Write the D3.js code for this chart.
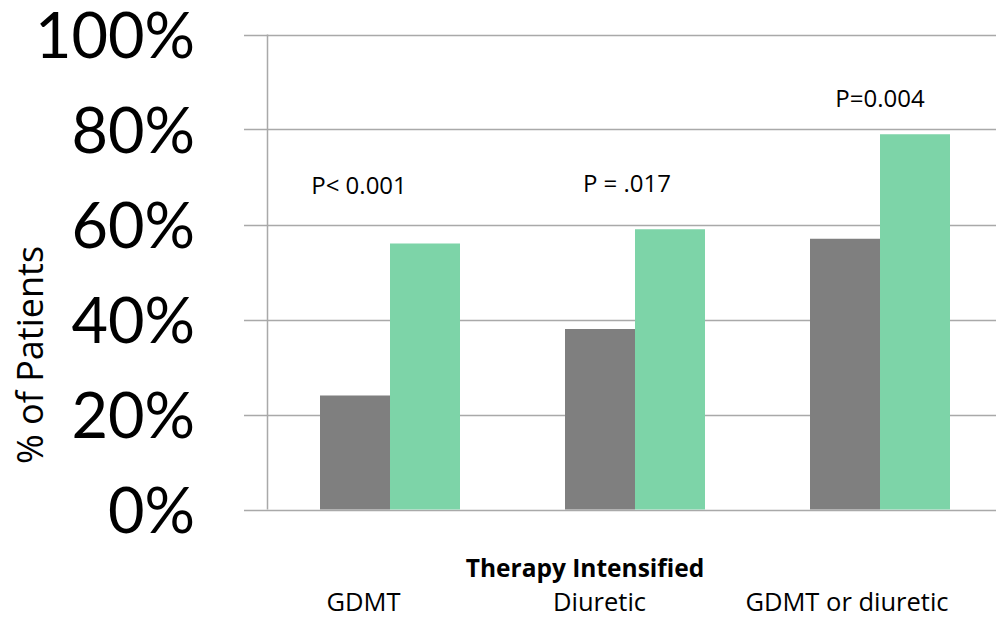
<!DOCTYPE html>
<html>
<head>
<meta charset="utf-8">
<script src="https://cdn.jsdelivr.net/npm/d3@7/dist/d3.min.js"></script>
<style>
  html, body { margin: 0; padding: 0; background: #fff; }
  svg { display: block; font-family: "Open Sans", Lato, sans-serif; }
</style>
</head>
<body>
<svg id="chart" width="996" height="617"></svg>
<script>
const categories = ["GDMT", "Diuretic", "GDMT or diuretic"];
const seriesNames = ["Control", "Intervention"];
const controlValues = [0.24, 0.38, 0.57];
const interventionValues = [0.56, 0.59, 0.79];
const pLabels = ["P< 0.001", "P = .017", "P=0.004"];
const yTicks = [0, 0.2, 0.4, 0.6, 0.8, 1.0];
const colors = ["#7f7f7f", "#7dd4a8"];

const svg = d3.select("#chart");
const plotLeft = 267.5, plotTop = 34.5, plotBottom = 509.5;
const gridLeft = 244, gridRight = 996;

const y = d3.scaleLinear().domain([0, 1]).range([plotBottom, plotTop]);
const x0 = d3.scaleBand().domain(categories).range([plotLeft, plotLeft + 245 * 3]).paddingInner(0).paddingOuter(0);
const x1 = d3.scaleBand().domain(seriesNames).range([0, 140]);
const groupOffset = (x0.bandwidth() - 140) / 2;

// gridlines
svg.append("g").selectAll("line").data(yTicks).join("line")
  .attr("x1", gridLeft).attr("x2", gridRight)
  .attr("y1", d => Math.round(y(d)) + 0.5).attr("y2", d => Math.round(y(d)) + 0.5)
  .attr("stroke", "#a9a9a9").attr("stroke-width", 1.5);

// y axis line
svg.append("line")
  .attr("x1", plotLeft).attr("x2", plotLeft)
  .attr("y1", y(1)).attr("y2", y(0))
  .attr("stroke", "#a9a9a9").attr("stroke-width", 1.5);

// y tick labels
svg.append("g").selectAll("text").data(yTicks).join("text")
  .attr("x", 195).attr("y", d => y(d) + 23)
  .attr("text-anchor", "end")
  .attr("font-family", "Lato, sans-serif")
  .attr("font-size", 63)
  .attr("fill", "#000")
  .text(d => d3.format(".0%")(d));

// bars
const data = categories.map((c, i) => ({ cat: c, vals: [controlValues[i], interventionValues[i]] }));
const groups = svg.append("g").selectAll("g").data(data).join("g")
  .attr("transform", d => `translate(${x0(d.cat) + groupOffset},0)`);
groups.selectAll("rect").data(d => d.vals.map((v, j) => ({ s: seriesNames[j], v, j }))).join("rect")
  .attr("x", d => x1(d.s))
  .attr("width", x1.bandwidth())
  .attr("y", d => y(d.v))
  .attr("height", d => y(0) - y(d.v))
  .attr("fill", d => colors[d.j]);

// p labels
const pOffsetX = [-31, -8, 0];
const pOffsetY = [50, 37, 27];
svg.append("g").selectAll("text").data(data).join("text")
  .attr("x", (d, i) => x0(d.cat) + x0.bandwidth() / 2 + pOffsetX[i])
  .attr("y", (d, i) => y(Math.max(...d.vals)) - pOffsetY[i])
  .attr("text-anchor", "middle")
  .attr("font-size", 24)
  .attr("fill", "#000")
  .text((d, i) => pLabels[i]);

// x axis title
svg.append("text")
  .attr("x", 585).attr("y", 577)
  .attr("text-anchor", "middle")
  .attr("font-size", 24.5).attr("font-weight", "bold")
  .text("Therapy Intensified");

// category labels
const labelOffsets = [-26.5, -35.5, -33];
svg.append("g").selectAll("text").data(categories).join("text")
  .attr("x", (d, i) => x0(d) + x0.bandwidth() / 2 + labelOffsets[i])
  .attr("y", 611)
  .attr("text-anchor", "middle")
  .attr("font-size", 25.5)
  .text(d => d);

// y axis title
svg.append("text")
  .attr("transform", "translate(43,355) rotate(-90)")
  .attr("text-anchor", "middle")
  .attr("font-size", 36)
  .text("% of Patients");
</script>
</body>
</html>
